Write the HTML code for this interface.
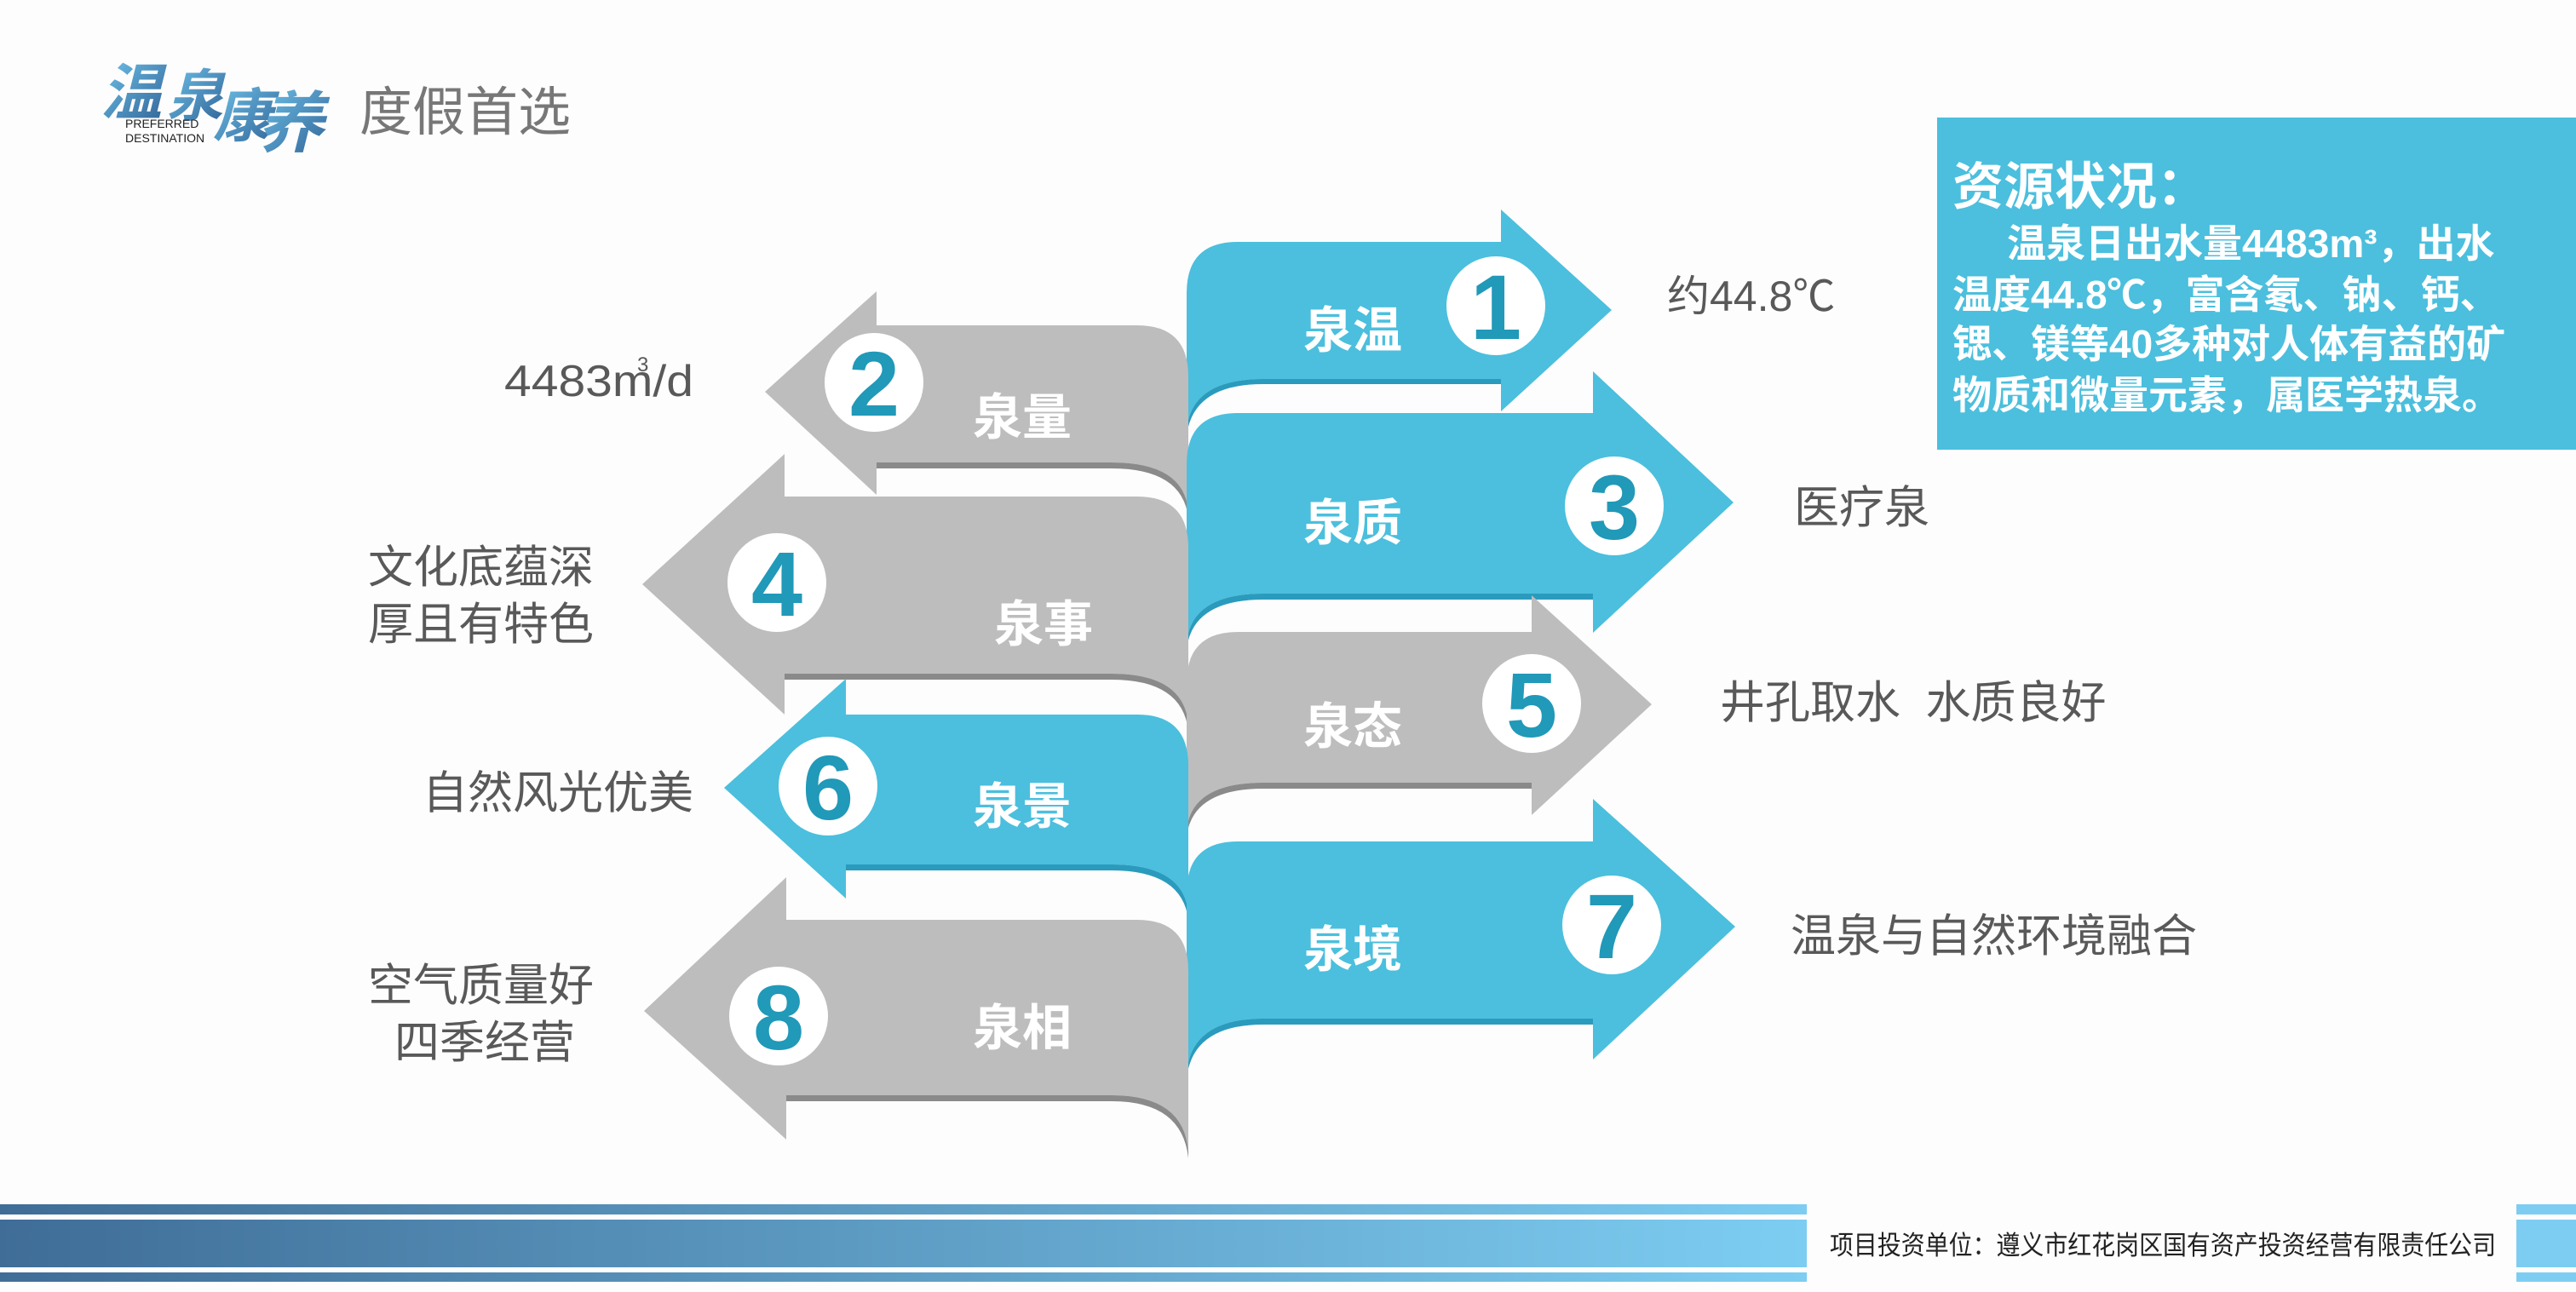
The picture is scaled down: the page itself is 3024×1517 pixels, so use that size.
<!DOCTYPE html>
<html><head><meta charset="utf-8"><style>
html,body{margin:0;padding:0;}
body{width:3024px;height:1512px;background:#fdfdfd;overflow:hidden;}
svg text{font-family:"Liberation Sans","Noto Sans CJK SC",sans-serif;}
</style></head><body>
<svg width="3024" height="1512" viewBox="0 0 3024 1512" xmlns="http://www.w3.org/2000/svg">
<defs>
<linearGradient id="bar" x1="0" x2="1" y1="0" y2="0"><stop offset="0" stop-color="#3f6d97"/><stop offset="1" stop-color="#7dcdf2"/></linearGradient>
<linearGradient id="logo" x1="0" x2="1" y1="0" y2="1"><stop offset="0" stop-color="#6fc3ea"/><stop offset="1" stop-color="#2f5f93"/></linearGradient>
</defs>
<rect width="3024" height="1512" fill="#fdfdfd"/>
<g font-style="italic" font-weight="bold" fill="url(#logo)">
<text x="118" y="134" font-size="72" font-family="'Noto Serif CJK SC',serif">温</text>
<text x="196" y="136" font-size="66" font-family="'Noto Serif CJK SC',serif">泉</text>
<text x="250" y="160" font-size="68" font-family="'Noto Serif CJK SC',serif">康</text>
<text x="302" y="172" font-size="78" font-family="'Noto Serif CJK SC',serif">养</text>
</g>
<text x="147" y="150" font-size="14" fill="#222">PREFERRED</text>
<text x="147" y="167" font-size="14" fill="#222">DESTINATION</text>
<text x="422" y="153" font-size="62" fill="#777">度假首选</text>

<g id="arrows">
<path d="M1393,505 L1393,344 Q1393,284 1453,284 L1762,284 L1762,246 L1892,364 L1762,483 L1762,445 L1483,445 Q1398,445 1393,505Z" fill="#4bbfdd"/>
<path d="M1483,445 L1762,445 L1762,451 L1483,451 Q1400,451 1393,512 L1393,505 Q1398,445 1483,445Z" fill="#2a9bbd"/>
<path d="M1395,600 L1395,442 Q1395,382 1335,382 L1029,382 L1029,342 L898,460 L1029,581 L1029,543 L1305,543 Q1390,543 1395,600Z" fill="#bdbdbd"/>
<path d="M1305,543 L1029,543 L1029,550 L1305,550 Q1388,550 1395,608 L1395,600 Q1390,543 1305,543Z" fill="#8a8a8a"/>
<path d="M1393,755 L1393,545 Q1393,485 1453,485 L1870,485 L1870,436 L2035,590 L1870,743 L1870,697 L1483,697 Q1398,697 1393,755Z" fill="#4bbfdd"/>
<path d="M1483,697 L1870,697 L1870,704 L1483,704 Q1400,704 1393,762 L1393,755 Q1398,697 1483,697Z" fill="#2a9bbd"/>
<path d="M1395,850 L1395,643 Q1395,583 1335,583 L921,583 L921,533 L754,686 L921,839 L921,791 L1305,791 Q1390,791 1395,850Z" fill="#bdbdbd"/>
<path d="M1305,791 L921,791 L921,798 L1305,798 Q1388,798 1395,858 L1395,850 Q1390,791 1305,791Z" fill="#8a8a8a"/>
<path d="M1393,975 L1393,802 Q1393,742 1453,742 L1798,742 L1798,699 L1939,827 L1798,957 L1798,919 L1483,919 Q1398,919 1393,975Z" fill="#bdbdbd"/>
<path d="M1483,919 L1798,919 L1798,926 L1483,926 Q1400,926 1393,982 L1393,975 Q1398,919 1483,919Z" fill="#8a8a8a"/>
<path d="M1395,1072 L1395,899 Q1395,839 1335,839 L993,839 L993,797 L850,925 L993,1055 L993,1015 L1305,1015 Q1390,1015 1395,1072Z" fill="#4bbfdd"/>
<path d="M1305,1015 L993,1015 L993,1022 L1305,1022 Q1388,1022 1395,1080 L1395,1072 Q1390,1015 1305,1015Z" fill="#2a9bbd"/>
<path d="M1393,1260 L1393,1048 Q1393,988 1453,988 L1870,988 L1870,938 L2037,1088 L1870,1244 L1870,1196 L1483,1196 Q1398,1196 1393,1260Z" fill="#4bbfdd"/>
<path d="M1483,1196 L1870,1196 L1870,1203 L1483,1203 Q1400,1203 1393,1266 L1393,1260 Q1398,1196 1483,1196Z" fill="#2a9bbd"/>
<path d="M1395,1352 L1395,1140 Q1395,1080 1335,1080 L923,1080 L923,1030 L756,1187 L923,1338 L923,1286 L1305,1286 Q1390,1286 1395,1352Z" fill="#bdbdbd"/>
<path d="M1305,1286 L923,1286 L923,1293 L1305,1293 Q1388,1293 1395,1360 L1395,1352 Q1390,1286 1305,1286Z" fill="#8a8a8a"/>
</g>

<g fill="#fff">
<circle cx="1756" cy="359" r="58"/><circle cx="1026" cy="449" r="58"/>
<circle cx="1895" cy="594" r="58"/><circle cx="912" cy="684" r="58"/>
<circle cx="1798" cy="826" r="58"/><circle cx="972" cy="923" r="58"/>
<circle cx="1892" cy="1086" r="58"/><circle cx="914" cy="1193" r="58"/>
</g>
<g fill="#2199b8" font-weight="bold" font-size="108" text-anchor="middle">
<text x="1756" y="398">1</text><text x="1026" y="488">2</text>
<text x="1895" y="633">3</text><text x="912" y="723">4</text>
<text x="1798" y="865">5</text><text x="972" y="962">6</text>
<text x="1892" y="1125">7</text><text x="914" y="1232">8</text>
</g>
<g fill="#fff" font-weight="bold" font-size="58" text-anchor="middle">
<text x="1588" y="408">泉温</text><text x="1200" y="510">泉量</text>
<text x="1588" y="634">泉质</text><text x="1225" y="753">泉事</text>
<text x="1588" y="873">泉态</text><text x="1200" y="967">泉景</text>
<text x="1588" y="1135">泉境</text><text x="1200" y="1227">泉相</text>
</g>

<g fill="#595959" font-size="53">
<text x="1957" y="365" font-size="50">约44.8℃</text>
<text x="592" y="465" font-size="52" textLength="222" lengthAdjust="spacingAndGlyphs">4483m/d</text>
<text x="748" y="436" font-size="24">3</text>
<text x="2106" y="614">医疗泉</text>
<text x="432" y="684">文化底蕴深</text>
<text x="432" y="751">厚且有特色</text>
<text x="2019" y="843" xml:space="preserve">井孔取水  水质良好</text>
<text x="496" y="949">自然风光优美</text>
<text x="2102" y="1117">温泉与自然环境融合</text>
<text x="432" y="1175">空气质量好</text>
<text x="463" y="1242">四季经营</text>
</g>

<rect x="2274" y="138" width="750" height="390" fill="#4bbfdd"/>
<g fill="#fff" font-weight="bold">
<text x="2292" y="240" font-size="60">资源状况：</text>
<text x="2356" y="302" font-size="46">温泉日出水量4483m³，出水</text>
<text x="2292" y="362" font-size="46">温度44.8℃，富含氡、钠、钙、</text>
<text x="2292" y="420" font-size="46">锶、镁等40多种对人体有益的矿</text>
<text x="2292" y="480" font-size="46">物质和微量元素，属医学热泉。</text>
</g>

<rect x="0" y="1414" width="2121" height="12" fill="url(#bar)"/>
<rect x="0" y="1432" width="2121" height="56" fill="url(#bar)"/>
<rect x="0" y="1494" width="2121" height="11" fill="url(#bar)"/>
<rect x="2954" y="1414" width="70" height="12" fill="#7dcdf2"/>
<rect x="2954" y="1432" width="70" height="56" fill="#7dcdf2"/>
<rect x="2954" y="1494" width="70" height="11" fill="#7dcdf2"/>
<text x="2148" y="1473" font-size="31" fill="#222" font-family="'Liberation Serif','Noto Serif CJK SC',serif" textLength="782" lengthAdjust="spacingAndGlyphs">项目投资单位：遵义市红花岗区国有资产投资经营有限责任公司</text>
</svg>
</body></html>
